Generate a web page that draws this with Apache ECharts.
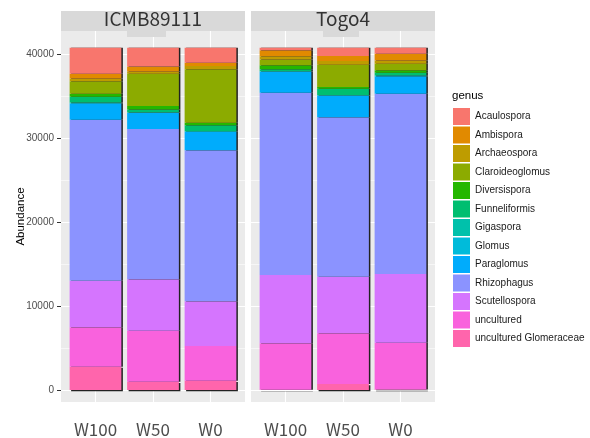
<html>
<head>
    <meta charset="utf-8" />
    <style>
        body { margin: 0; background: #fff; }
    </style>
</head>
<body>
    <div id="chart" style="width:590px;height:438px"></div>
    <script src="https://cdn.jsdelivr.net/npm/echarts@6/dist/echarts.min.js"></script>
    <script>
        var categories = ['W100', 'W50', 'W0'];
        var panelNames = ['ICMB89111', 'Togo4'];
        var genera = ['Acaulospora', 'Ambispora', 'Archaeospora', 'Claroideoglomus', 'Diversispora',
            'Funneliformis', 'Gigaspora', 'Glomus', 'Paraglomus', 'Rhizophagus', 'Scutellospora',
            'uncultured', 'uncultured Glomeraceae'];
        var genusColors = ['#F8766D', '#E18A00', '#BE9C00', '#8CAB00', '#24B700', '#00BE70', '#00C1AB',
            '#00BBDA', '#00ACFC', '#8B93FF', '#D575FE', '#F962DD', '#FF65AC'];

        // abundance per genus (same order as genera), one array per bar
        var icmbW100 = [3100, 560, 350, 1480, 350, 690, 50, 100, 1910, 19180, 5550, 4690, 2780];
        var icmbW50 = [2220, 600, 280, 3850, 400, 330, 50, 50, 1910, 17900, 6120, 6080, 990];
        var icmbW0 = [1790, 400, 390, 6360, 300, 700, 72, 0, 2220, 17990, 5330, 4130, 1110];
        var togoW100 = [310, 700, 400, 690, 480, 200, 50, 70, 2470, 21720, 8140, 5530, 30];
        var togoW50 = [990, 600, 440, 2660, 200, 740, 48, 0, 2620, 18990, 6740, 6040, 715];
        var togoW0 = [720, 800, 390, 790, 290, 300, 130, 0, 2070, 21480, 8180, 5590, 50];

        var yTicks = [0, 10000, 20000, 30000, 40000];
        var yMinor = [5000, 15000, 25000, 35000];

        var panelBars = [[icmbW100, icmbW50, icmbW0], [togoW100, togoW50, togoW0]];

        var chart = echarts.init(document.getElementById('chart'));

        var yMin = -1430, yMax = 42776;
        var grids = [], xAxes = [], yAxes = [], series = [];
        var lefts = [61, 251];
        for (var p = 0; p < 2; p++) {
            var bg = p * 2, fg = p * 2 + 1;
            // panel background grid (ggplot discrete axis runs 0.4 .. 3.6)
            grids.push({
                left: lefts[p], top: 31, width: 184, height: 371,
                show: true, backgroundColor: '#EBEBEB', borderWidth: 0
            });
            // bar grid, category bands 0.5 .. 3.5
            grids.push({ left: lefts[p] + 5.75, top: 31, width: 172.5, height: 371 });

            xAxes.push({
                type: 'value', gridIndex: bg, min: 0.4, max: 3.6,
                axisLine: { show: false }, axisTick: { show: false }, splitLine: { show: false },
                axisLabel: {
                    customValues: [1, 2, 3],
                    formatter: function (v) { return categories[Math.round(v) - 1]; },
                    color: '#4D4D4D', fontSize: 17, margin: 19,
                    fontFamily: 'Noto Sans CJK JP'
                }
            });
            xAxes.push({
                type: 'category', gridIndex: fg, data: categories, show: false
            });
            yAxes.push({
                type: 'value', gridIndex: bg, min: yMin, max: yMax,
                axisLine: { show: false }, splitLine: { show: false },
                axisTick: { show: p === 0, customValues: yTicks, length: 4, lineStyle: { color: '#333' } },
                axisLabel: {
                    show: p === 0, customValues: yTicks, color: '#4D4D4D', fontSize: 10, margin: 7,
                    fontFamily: 'Liberation Sans',
                    formatter: function (v) { return String(v); }
                },
                name: p === 0 ? 'Abundance' : '', nameLocation: 'middle', nameGap: 34,
                nameMoveOverlap: false,
                nameTextStyle: { color: '#000', fontSize: 11.5, fontFamily: 'Liberation Sans' }
            });
            yAxes.push({
                type: 'value', gridIndex: fg, min: yMin, max: yMax, show: false
            });

            // panel grid lines
            var lines = [];
            yTicks.forEach(function (v) { lines.push({ yAxis: v, lineStyle: { color: '#fff', width: 1.1, type: 'solid' } }); });
            yMinor.forEach(function (v) { lines.push({ yAxis: v, lineStyle: { color: '#fff', width: 0.55, type: 'solid' } }); });
            [1, 2, 3].forEach(function (v) { lines.push({ xAxis: v, lineStyle: { color: '#fff', width: 1.1, type: 'solid' } }); });
            series.push({
                type: 'line', xAxisIndex: bg, yAxisIndex: bg, data: [], silent: true, z: 1,
                markLine: { silent: true, z: 1, symbol: ['none', 'none'], label: { show: false }, data: lines }
            });

            // stacked bars, bottom genus first
            for (var g = genera.length - 1; g >= 0; g--) {
                var bars = panelBars[p];
                series.push({
                    name: genera[g], type: 'bar', stack: 'panel' + p,
                    xAxisIndex: fg, yAxisIndex: fg, z: 10,
                    barWidth: '90%',
                    data: bars.map(function (b) { return b[g]; }),
                    itemStyle: {
                        color: genusColors[g], shadowColor: '#222', shadowBlur: 0,
                        shadowOffsetX: 1.5, shadowOffsetY: g === genera.length - 1 ? 1.2 : 0
                    },
                    emphasis: { disabled: true }
                });
            }
        }

        var option = {
            animation: false,
            grid: grids,
            xAxis: xAxes,
            yAxis: yAxes,
            legend: {
                data: genera, orient: 'vertical', left: 453, top: 108, padding: 0,
                icon: 'rect', itemWidth: 17, itemHeight: 17, itemGap: 1.5,
                textStyle: { fontSize: 10, color: '#1A1A1A', fontFamily: 'Liberation Sans' }
            },
            graphic: [
                { type: 'rect', shape: { x: 61, y: 11, width: 184, height: 20 }, style: { fill: '#D9D9D9' } },
                { type: 'rect', shape: { x: 251, y: 11, width: 184, height: 20 }, style: { fill: '#D9D9D9' } },
                { type: 'rect', shape: { x: 127, y: 31, width: 39, height: 6 }, style: { fill: '#D9D9D9' }, z: 5 },
                { type: 'rect', shape: { x: 323, y: 30, width: 36, height: 7 }, style: { fill: '#D9D9D9' }, z: 5 },
                {
                    type: 'text', x: 153, y: 19, z: 20, style: {
                        text: panelNames[0], fill: '#333', fontSize: 19, fontFamily: 'Noto Sans CJK JP',
                        align: 'center', verticalAlign: 'middle'
                    }
                },
                {
                    type: 'text', x: 343, y: 19, z: 20, style: {
                        text: panelNames[1], fill: '#333', fontSize: 19, fontFamily: 'Noto Sans CJK JP',
                        align: 'center', verticalAlign: 'middle'
                    }
                },
                {
                    type: 'text', x: 452, y: 90, style: {
                        text: 'genus', fill: '#000', fontSize: 11.5, fontFamily: 'Liberation Sans'
                    }
                }
            ],
            series: series
        };
        chart.setOption(option);
    </script>
</body>
</html>
